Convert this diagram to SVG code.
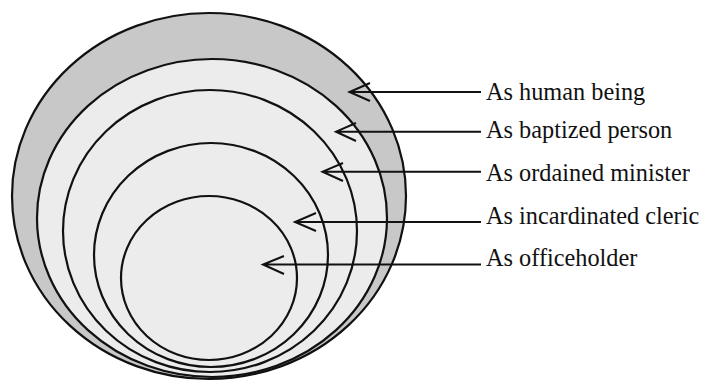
<svg xmlns="http://www.w3.org/2000/svg" width="705" height="382" viewBox="0 0 705 382">
<style>
.ring{stroke:#111;stroke-width:2.2;}
.outer{fill:#c8c8c8;}
.inner{fill:#ececec;}
.lbl{font-family:"Liberation Serif","Times New Roman",serif;font-size:24.3px;fill:#111;}
.con{stroke:#111;stroke-width:2;fill:none;}
</style>
<rect width="705" height="382" fill="#fff"/>
<g id="n-human"><ellipse class="ring outer" cx="209" cy="196" rx="197" ry="183"/></g>
<g id="n-baptized"><ellipse class="ring inner" cx="212" cy="218" rx="175" ry="159"/></g>
<g id="n-ordained"><ellipse class="ring inner" cx="210" cy="231" rx="147" ry="141"/></g>
<g id="n-incardinated"><ellipse class="ring inner" cx="211" cy="255" rx="117" ry="112"/></g>
<g id="n-office"><ellipse class="ring inner" cx="209" cy="278" rx="88" ry="82"/></g>
<g id="connectors">
<path class="con" d="M481 92H349.5M370 83L349.5 92L370 101"/>
<path class="con" d="M481 131.7H336M356 123L336 131.7L356 141"/>
<path class="con" d="M481 171.7H322.5M343 163L322.5 171.7L343 181"/>
<path class="con" d="M481 222H295M316 213L295 222L316 231"/>
<path class="con" d="M481 264.5H263M284 256L263 264.5L284 274"/>
</g>
<g id="labels">
<text class="lbl" x="486" y="100">As human being</text>
<text class="lbl" x="486" y="137.5">As baptized person</text>
<text class="lbl" x="486" y="181">As ordained minister</text>
<text class="lbl" x="486" y="223.5">As incardinated cleric</text>
<text class="lbl" x="486" y="265.5">As officeholder</text>
</g>
</svg>
